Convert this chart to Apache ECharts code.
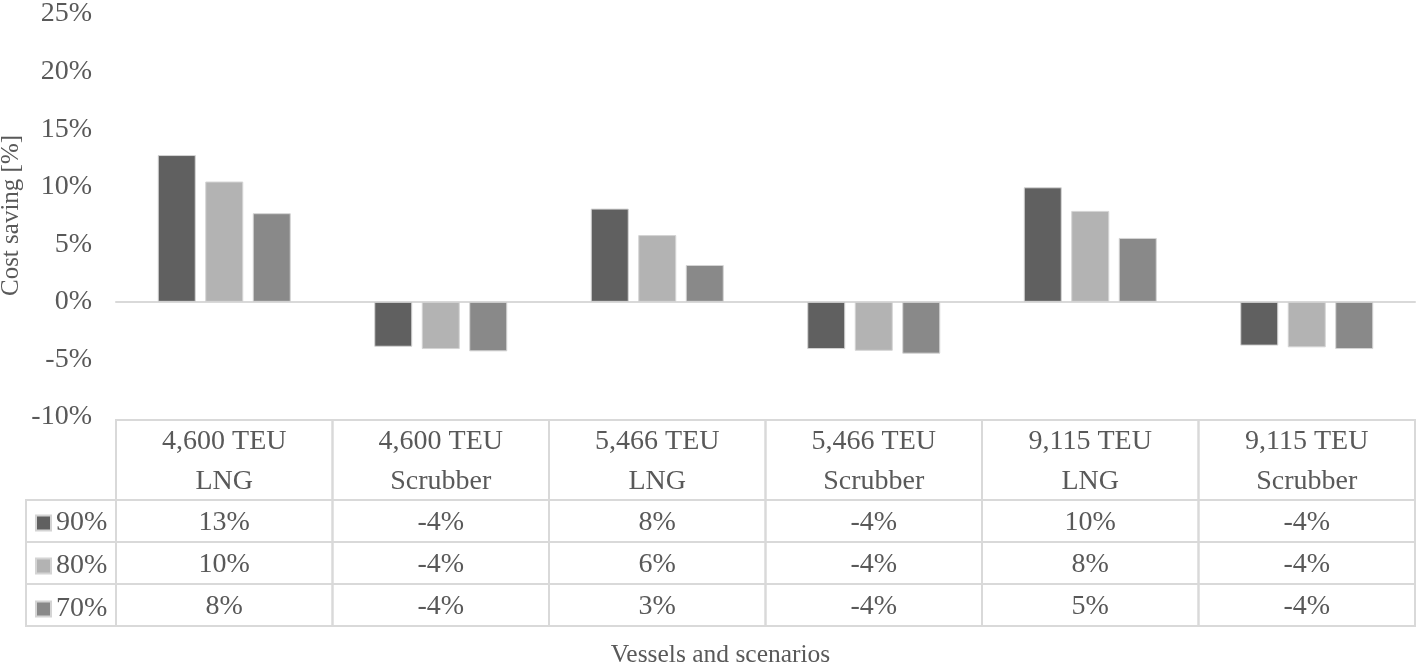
<!DOCTYPE html>
<html>
<head>
<meta charset="utf-8">
<script src="https://cdn.jsdelivr.net/npm/echarts@6/dist/echarts.min.js"></script>
<style>html,body{margin:0;padding:0;background:#fff}#c{width:1418px;height:664px}</style>
</head>
<body>
<div id="c"></div>
<script>
var categories = ['4,600 TEU\nLNG', '4,600 TEU\nScrubber', '5,466 TEU\nLNG', '5,466 TEU\nScrubber', '9,115 TEU\nLNG', '9,115 TEU\nScrubber'];
var seriesNames = ['90%', '80%', '70%'];
var s90 = [12.75, -3.9, 8.1, -4.1, 9.95, -3.8];
var s80 = [10.45, -4.1, 5.8, -4.25, 7.9, -3.95];
var s70 = [7.7, -4.3, 3.2, -4.5, 5.55, -4.1];
var t90 = ['13%', '-4%', '8%', '-4%', '10%', '-4%'];
var t80 = ['10%', '-4%', '6%', '-4%', '8%', '-4%'];
var t70 = ['8%', '-4%', '3%', '-4%', '5%', '-4%'];
var yTicks = [-10, -5, 0, 5, 10, 15, 20, 25];
var colors = ['#606060', '#b3b3b3', '#898989'];

var FONT = 'Liberation Serif';
var TXT = '#595959';
var LINE = '#d9d9d9';

// table layout in table-axis units
var legendColW = 90 / 216.5;
var rowBounds = [[0, 1.9], [1.9, 2.9], [2.9, 3.9], [3.9, 4.9]];
var tableRows = [t90, t80, t70];

var cells = [];
for (var c = 0; c < categories.length; c++) {
  cells.push([c, c + 1, rowBounds[0][0], rowBounds[0][1], categories[c], 1]);
}
for (var r = 0; r < tableRows.length; r++) {
  cells.push([-legendColW, 0, rowBounds[r + 1][0], rowBounds[r + 1][1], '', 0]);
  for (var c2 = 0; c2 < categories.length; c2++) {
    cells.push([c2, c2 + 1, rowBounds[r + 1][0], rowBounds[r + 1][1], tableRows[r][c2], 0]);
  }
}

var chart = echarts.init(document.getElementById('c'), null, {renderer: 'canvas'});
function mkBar(name, data, color) {
  return {
    name: name, type: 'bar', data: data, xAxisIndex: 0, yAxisIndex: 0,
    barWidth: 38, barGap: '25%',
    itemStyle: {color: color, borderColor: '#d4d4d4', borderWidth: 1},
    silent: true
  };
}
chart.setOption({
  animation: false,
  backgroundColor: '#ffffff',
  textStyle: {fontFamily: FONT},
  grid: [
    {left: 116, right: 3, top: 14, height: 403, containLabel: false, outerBoundsMode: 'none'},
    {left: 26, right: 3, top: 420, height: 206, containLabel: false, outerBoundsMode: 'none'}
  ],
  legend: {
    data: seriesNames,
    orient: 'vertical',
    left: 30, top: 504,
    itemWidth: 15, itemHeight: 15, itemGap: 15,
    icon: 'rect',
    textStyle: {fontFamily: FONT, fontSize: 28, color: TXT},
    selectedMode: false
  },
  xAxis: [
    {
      type: 'category', gridIndex: 0, data: categories,
      axisLine: {show: true, onZero: true, lineStyle: {color: LINE, width: 2}},
      axisTick: {show: false}, axisLabel: {show: false}, splitLine: {show: false}
    },
    {
      type: 'value', gridIndex: 1, min: -legendColW, max: 6,
      axisLine: {show: false}, axisTick: {show: false}, axisLabel: {show: false}, splitLine: {show: false},
      name: 'Vessels and scenarios', nameLocation: 'middle', nameGap: 16, nameMoveOverlap: false,
      nameTextStyle: {fontFamily: FONT, fontSize: 25.5, color: TXT}
    }
  ],
  yAxis: [
    {
      type: 'value', gridIndex: 0, min: -10, max: 25, interval: 5,
      axisLine: {show: false}, axisTick: {show: false}, splitLine: {show: false},
      axisLabel: {
        formatter: function (v) { return v + '%'; },
        fontFamily: FONT, fontSize: 28, color: TXT, margin: 24
      },
      name: 'Cost saving [%]', nameLocation: 'middle', nameGap: 92, nameRotate: 90, nameMoveOverlap: false,
      nameTextStyle: {fontFamily: FONT, fontSize: 25, color: TXT}
    },
    {
      type: 'value', gridIndex: 1, min: 0, max: 4.9, inverse: true,
      axisLine: {show: false}, axisTick: {show: false}, axisLabel: {show: false}, splitLine: {show: false}
    }
  ],
  series: [
    mkBar(seriesNames[0], s90, colors[0]),
    mkBar(seriesNames[1], s80, colors[1]),
    mkBar(seriesNames[2], s70, colors[2]),
    {
      type: 'custom', xAxisIndex: 1, yAxisIndex: 1, silent: true,
      data: cells,
      renderItem: function (params, api) {
        var p0 = api.coord([api.value(0), api.value(2)]);
        var p1 = api.coord([api.value(1), api.value(3)]);
        var idx = params.dataIndex;
        var label = cells[idx][4];
        var isHeader = cells[idx][5] === 1;
        return {
          type: 'group',
          children: [
            {
              type: 'rect',
              shape: {x: p0[0], y: p0[1], width: p1[0] - p0[0], height: p1[1] - p0[1]},
              style: {fill: 'none', stroke: LINE, lineWidth: 2}
            },
            {
              type: 'text',
              style: {
                text: label,
                x: (p0[0] + p1[0]) / 2, y: (p0[1] + p1[1]) / 2 + 2,
                align: 'center', verticalAlign: 'middle',
                font: '28px "' + FONT + '"', fill: TXT,
                lineHeight: isHeader ? 40 : 30
              }
            }
          ]
        };
      }
    }
  ]
});
</script>
</body>
</html>
